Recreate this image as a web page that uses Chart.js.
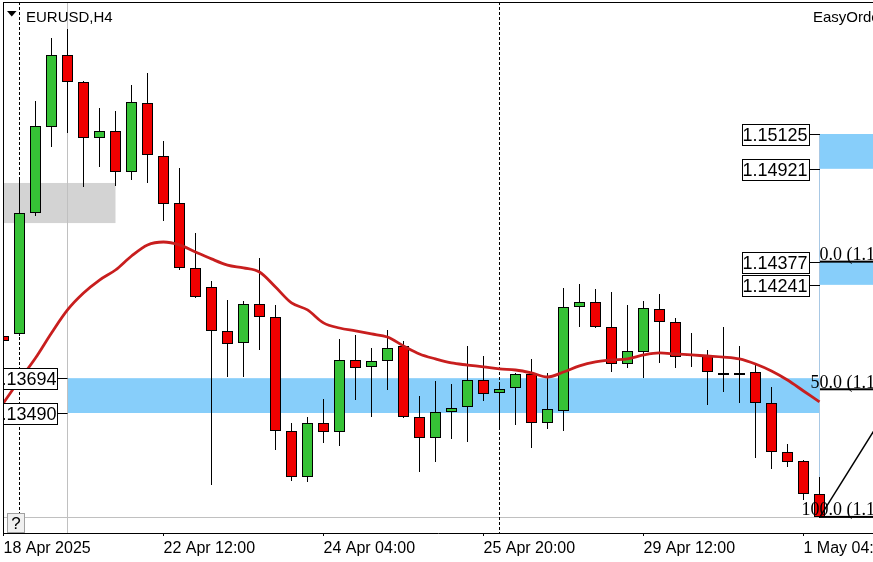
<!DOCTYPE html>
<html>
<head>
<meta charset="utf-8">
<script src="https://cdn.jsdelivr.net/npm/chart.js@4.4.0/dist/chart.umd.min.js"></script>
<style>
  html, body { margin: 0; padding: 0; background: #fff; }
  #wrap { width: 873px; height: 562px; position: relative; }
</style>
</head>
<body>
<div id="wrap"><canvas id="chart"></canvas></div>
<script>
// EURUSD H4 candles, one per bar index
const openPrices = [1.13941, 1.13953, 1.14662, 1.15166, 1.15588, 1.15430, 1.15102, 1.15143, 1.14902, 1.15307,
  1.14996, 1.14721, 1.14340, 1.14228, 1.13971, 1.13900, 1.14129, 1.14053, 1.13385, 1.13115,
  1.13432, 1.13379, 1.13801, 1.13760, 1.13795, 1.13883, 1.13467, 1.13344, 1.13496, 1.13525,
  1.13683, 1.13607, 1.13637, 1.13719, 1.13432, 1.13502, 1.14111, 1.14141, 1.13994, 1.13777,
  1.13848, 1.14100, 1.14023, 1.13836, 1.13824, 1.13725, 1.13713, 1.13730, 1.13549, 1.13262,
  1.13209, 1.13015];
const highPrices = [1.13965, 1.14873, 1.15318, 1.15688, 1.15740, 1.15436, 1.15277, 1.15260, 1.15412, 1.15482,
  1.15084, 1.14926, 1.14545, 1.14264, 1.14152, 1.14146, 1.14398, 1.14123, 1.13432, 1.13467,
  1.13572, 1.13924, 1.13947, 1.13871, 1.13976, 1.13912, 1.13590, 1.13678, 1.13660, 1.13883,
  1.13824, 1.13672, 1.13725, 1.13807, 1.13725, 1.14223, 1.14246, 1.14217, 1.14199, 1.14123,
  1.14146, 1.14187, 1.14047, 1.13959, 1.13859, 1.13994, 1.13883, 1.13771, 1.13642, 1.13308,
  1.13215, 1.13115];
const lowPrices = [1.13877, 1.13941, 1.14645, 1.15049, 1.15131, 1.14814, 1.14932, 1.14820, 1.14855, 1.14838,
  1.14615, 1.14328, 1.14164, 1.13068, 1.13701, 1.13701, 1.13859, 1.13273, 1.13092, 1.13086,
  1.13314, 1.13297, 1.13566, 1.13467, 1.13625, 1.13461, 1.13144, 1.13203, 1.13338, 1.13320,
  1.13560, 1.13390, 1.13420, 1.13285, 1.13396, 1.13385, 1.13994, 1.13988, 1.13730, 1.13754,
  1.13695, 1.13783, 1.13754, 1.13760, 1.13537, 1.13613, 1.13549, 1.13226, 1.13162, 1.13174,
  1.12980, 1.12875];
const closePrices = [1.13912, 1.14662, 1.15172, 1.15588, 1.15430, 1.15102, 1.15143, 1.14902, 1.15313, 1.15002,
  1.14715, 1.14340, 1.14170, 1.13971, 1.13894, 1.14129, 1.14053, 1.13385, 1.13115, 1.13432,
  1.13379, 1.13801, 1.13754, 1.13795, 1.13871, 1.13467, 1.13344, 1.13496, 1.13519, 1.13683,
  1.13601, 1.13631, 1.13719, 1.13432, 1.13514, 1.14111, 1.14141, 1.13994, 1.13777, 1.13853,
  1.14105, 1.14023, 1.13818, 1.13824, 1.13730, 1.13713, 1.13725, 1.13549, 1.13262, 1.13203,
  1.13015, 1.12881];
// moving average line
const maValues = [1.13549, 1.13683, 1.13812, 1.13959, 1.14094, 1.14193, 1.14269, 1.14328, 1.14410, 1.14475,
  1.14492, 1.14475, 1.14434, 1.14393, 1.14357, 1.14340, 1.14316, 1.14228, 1.14135, 1.14094,
  1.14018, 1.13988, 1.13971, 1.13953, 1.13935, 1.13883, 1.13836, 1.13807, 1.13783, 1.13771,
  1.13760, 1.13748, 1.13742, 1.13725, 1.13701, 1.13730, 1.13766, 1.13789, 1.13801, 1.13807,
  1.13830, 1.13842, 1.13836, 1.13830, 1.13824, 1.13818, 1.13807, 1.13777, 1.13736, 1.13683,
  1.13619, 1.13555];

const tickIndex = [0, 10, 20, 30, 40, 50];
const tickLabels = ['18 Apr 2025', '22 Apr 12:00', '24 Apr 04:00', '25 Apr 20:00', '29 Apr 12:00', '1 May 04:00'];

// zones drawn on the chart
const rightZones = [[1.15125, 1.14921], [1.14377, 1.14241]];
const leftZones = [[1.13694, 1.13490]];
const grayBox = [1.14838, 1.14603];
const fibLevels = ['0.0', '50.0', '100.0'];
const fibPrices = [1.14377, 1.13629, 1.12881];
const fibTrend = [{x: 51.03, y: 1.12881}, {x: 61, y: 1.14377}];
const separatorIndex = [1, 31];
const markerIndex = 4;
const bidPrice = 1.12881;

const GREEN = '#36c236';
const RED = '#f00000';
const ZONE_EDGE = 51.03;

const idx = openPrices.map((_, i) => i);
const bodyColors = idx.map(i => closePrices[i] >= openPrices[i] ? GREEN : RED);

function fillBox(ctx, x, y, x0, x1, p0, p1) {
  const l = x.getPixelForValue(x0), r = x.getPixelForValue(x1);
  const t = y.getPixelForValue(Math.max(p0, p1)), b = y.getPixelForValue(Math.min(p0, p1));
  ctx.fillRect(l, t, r - l, b - t);
}

function priceBox(ctx, right, py, text, inset) {
  const w = 67, h = 21;
  const top = Math.round(py - h / 2) + 0.5;
  const left = right - w;
  ctx.fillStyle = '#ffffff';
  ctx.fillRect(left, top, w, h);
  ctx.strokeStyle = '#000000';
  ctx.lineWidth = 1;
  ctx.strokeRect(left, top, w, h);
  ctx.fillStyle = '#000000';
  ctx.font = '18px "Liberation Sans", Arial, sans-serif';
  ctx.textAlign = 'right';
  ctx.textBaseline = 'alphabetic';
  ctx.fillText(text, right - inset, top + 16.5);
}

const overlay = {
  id: 'overlay',
  beforeDatasetsDraw(chart) {
    const {ctx, chartArea: a, scales: {x, y}} = chart;
    ctx.save();
    ctx.beginPath();
    ctx.rect(a.left, a.top, a.right - a.left, a.bottom - a.top);
    ctx.clip();

    ctx.fillStyle = '#d3d3d3';
    fillBox(ctx, x, y, 0, 7, grayBox[0], grayBox[1]);

    ctx.fillStyle = '#87cefa';
    leftZones.forEach(z => fillBox(ctx, x, y, markerIndex, ZONE_EDGE, z[0], z[1]));
    rightZones.forEach(z => fillBox(ctx, x, y, ZONE_EDGE, x.max, z[0], z[1]));

    // bid line
    ctx.fillStyle = '#c0c0c0';
    ctx.fillRect(a.left, Math.round(y.getPixelForValue(bidPrice)), a.right - a.left, 1);

    // vertical marker line
    ctx.fillRect(Math.floor(x.getPixelForValue(markerIndex)), a.top, 1, a.bottom - a.top);

    // fibo vertical edge
    ctx.fillStyle = '#a8c8e4';
    const fx = Math.floor(x.getPixelForValue(ZONE_EDGE));
    const fTop = y.getPixelForValue(rightZones[0][0]);
    ctx.fillRect(fx, fTop, 1, y.getPixelForValue(fibPrices[2]) - fTop);

    // weekly separators
    ctx.strokeStyle = '#000000';
    ctx.lineWidth = 1;
    ctx.setLineDash([3, 2]);
    separatorIndex.forEach(s => {
      const px = Math.floor(x.getPixelForValue(s)) + 0.5;
      ctx.beginPath();
      ctx.moveTo(px, a.top);
      ctx.lineTo(px, a.bottom);
      ctx.stroke();
    });
    ctx.setLineDash([]);
    ctx.restore();
  },
  afterDatasetsDraw(chart) {
    const {ctx, chartArea: a, scales: {x, y}} = chart;
    ctx.save();
    ctx.beginPath();
    ctx.rect(a.left - 0.5, a.top, a.right - a.left + 1, a.bottom - a.top);
    ctx.clip();

    const ex = x.getPixelForValue(ZONE_EDGE);
    // fibo levels
    ctx.fillStyle = '#000000';
    ctx.font = '18px "Liberation Serif", "Times New Roman", serif';
    ctx.textAlign = 'right';
    ctx.textBaseline = 'alphabetic';
    fibPrices.forEach((p, i) => {
      const py = y.getPixelForValue(p);
      ctx.fillRect(ex, py - 1, a.right - ex, 2);
      ctx.fillText(fibLevels[i] + ' (' + p.toFixed(5) + ')', ex + 97, py - 1.5);
    });

    // price boxes, right side
    const rightEdge = Math.round(ex) - 11;
    rightZones.forEach(z => z.forEach(p => {
      const py = Math.round(y.getPixelForValue(p)) + 0.5;
      ctx.strokeStyle = '#000000';
      ctx.beginPath(); ctx.moveTo(rightEdge, py); ctx.lineTo(ex, py); ctx.stroke();
      priceBox(ctx, rightEdge + 0.5, py, p.toFixed(5), 2);
    }));

    // price boxes, left side
    const lx = x.getPixelForValue(markerIndex);
    const leftEdge = Math.round(lx) - 11;
    leftZones.forEach(z => z.forEach(p => {
      const py = Math.round(y.getPixelForValue(p)) + 0.5;
      ctx.strokeStyle = '#000000';
      ctx.beginPath(); ctx.moveTo(leftEdge, py); ctx.lineTo(lx, py); ctx.stroke();
      priceBox(ctx, leftEdge + 0.5, py, p.toFixed(5), 1);
    }));
    ctx.restore();

    // frame
    ctx.save();
    ctx.fillStyle = '#000000';
    ctx.fillRect(3, Math.floor(a.top), a.right - 3, 1);
    ctx.fillRect(3, Math.floor(a.top), 1, a.bottom - a.top);

    // title
    ctx.beginPath();
    ctx.moveTo(7, 11); ctx.lineTo(16.5, 11); ctx.lineTo(11.75, 16.5); ctx.closePath();
    ctx.fill();
    ctx.font = '15px "Liberation Sans", Arial, sans-serif';
    ctx.textAlign = 'left';
    ctx.textBaseline = 'alphabetic';
    ctx.fillText('EURUSD,H4', 26, 21.5);
    ctx.fillText('EasyOrder', 813, 22);

    // help box
    ctx.fillStyle = '#f0f0f0';
    ctx.fillRect(7.5, 513.5, 17, 19);
    ctx.strokeStyle = '#a0a0a0';
    ctx.strokeRect(7.5, 513.5, 17, 19);
    ctx.fillStyle = '#000000';
    ctx.font = '17px "Liberation Sans", Arial, sans-serif';
    ctx.textAlign = 'center';
    ctx.fillText('?', 16, 529);
    ctx.restore();
  }
};

new Chart(document.getElementById('chart'), {
  type: 'bar',
  data: {
    datasets: [
      {
        type: 'line',
        label: 'MA',
        data: idx.map(i => ({x: i, y: maValues[i]})),
        borderColor: '#c81e1e',
        borderWidth: 2.8,
        pointRadius: 0,
        cubicInterpolationMode: 'monotone',
        order: 0
      },
      {
        type: 'line',
        label: 'Fibo',
        data: fibTrend,
        borderColor: '#000000',
        borderWidth: 1.5,
        pointRadius: 0,
        order: 0
      },
      {
        label: 'Body',
        data: idx.map(i => ({x: i, y: [openPrices[i], closePrices[i]]})),
        backgroundColor: bodyColors,
        borderColor: '#000000',
        borderWidth: 1,
        borderSkipped: false,
        maxBarThickness: 11,
        grouped: false,
        inflateAmount: 0,
        order: 1
      },
      {
        label: 'Wick',
        data: idx.map(i => ({x: i, y: [lowPrices[i], highPrices[i]]})),
        backgroundColor: '#000000',
        borderWidth: 0,
        maxBarThickness: 1,
        grouped: false,
        inflateAmount: 0,
        order: 2
      }
    ]
  },
  options: {
    responsive: true,
    maintainAspectRatio: false,
    animation: false,
    devicePixelRatio: 1,
    layout: { padding: { left: 3.5, top: 2, right: 0, bottom: 0 } },
    plugins: {
      legend: { display: false },
      tooltip: { enabled: false }
    },
    scales: {
      x: {
        type: 'linear',
        min: 0,
        max: 54.34375,
        offset: false,
        afterBuildTicks: scale => { scale.ticks = tickIndex.map(v => ({value: v})); },
        afterFit: scale => { scale.height = 29; scale.paddingLeft = 0; scale.paddingRight = 0; },
        ticks: {
          autoSkip: false,
          maxRotation: 0,
          align: 'start',
          padding: 3,
          color: '#000000',
          font: { family: '"Liberation Sans", Arial, sans-serif', size: 16 },
          callback: (value, index) => tickLabels[index]
        },
        grid: {
          offset: false,
          drawOnChartArea: false,
          drawTicks: true,
          tickLength: 3,
          color: '#000000'
        },
        border: { display: true, color: '#000000', width: 1 }
      },
      y: {
        type: 'linear',
        display: false,
        min: 1.127867,
        max: 1.158986
      }
    }
  },
  plugins: [overlay]
});
</script>
</body>
</html>
